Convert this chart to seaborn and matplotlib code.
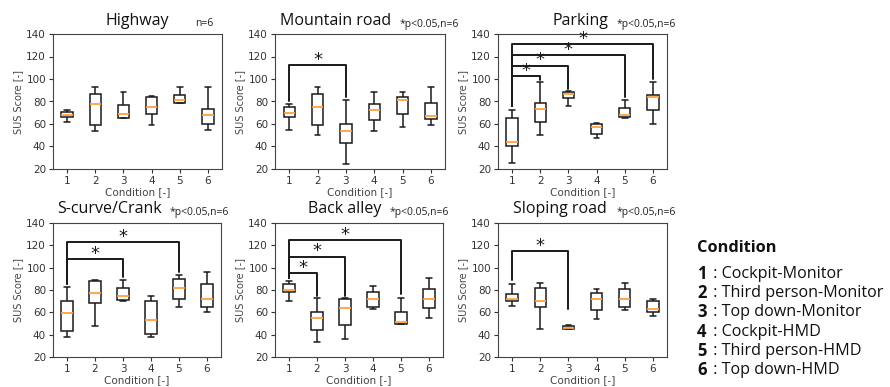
import matplotlib
matplotlib.use("Agg")
import matplotlib.pyplot as plt
import seaborn as sns
import pandas as pd

sns.set_theme(style="ticks")
plt.rcParams['font.family'] = ['DejaVu Sans']

conditions = ["1", "2", "3", "4", "5", "6"]

# six scores per condition (n=6)
highway = [
    [62, 66, 66, 70, 71.3, 72],
    [54, 55.7, 69, 87, 87, 93],
    [65, 65, 65, 73, 78.3, 88],
    [59, 69, 69, 81, 85, 85],
    [79, 79, 79, 83, 87, 93],
    [55, 59, 63, 73, 73, 93],
]
mountain = [
    [55, 66, 66, 74, 75.3, 78],
    [50, 57.7, 63, 87, 87, 93],
    [24, 41.3, 48, 60, 60, 81],
    [54, 63.3, 66, 78, 78, 88],
    [57, 66, 78, 84, 84, 88],
    [59, 64, 64, 70, 82, 93],
]
parking = [
    [25, 40, 40, 48, 70.7, 72],
    [50, 60.3, 67, 79, 79, 97],
    [76, 82, 86, 88, 88, 89],
    [48, 50, 54, 60, 60, 61],
    [65, 66, 66, 70, 75.3, 81],
    [60, 68.7, 82, 86, 86, 97],
]
scurve = [
    [38, 41.3, 48, 70, 70, 83],
    [48, 68, 68, 86, 88.7, 89],
    [70, 71, 71, 79, 83, 89],
    [38, 41, 41, 65, 71.7, 75],
    [65, 71.3, 74, 90, 90, 93],
    [60, 65, 65, 79, 87, 96],
]
backalley = [
    [70, 78, 78, 82, 86, 88],
    [33, 42, 50, 60, 60, 73],
    [36, 46.7, 56, 72, 72, 73],
    [63, 64.7, 66, 78, 78, 84],
    [50, 50, 50, 52, 62.7, 73],
    [55, 64, 64, 80, 81.3, 91],
]
sloping = [
    [66, 70, 70, 74, 76.7, 85],
    [45, 65, 65, 75, 84.3, 86],
    [45, 45, 45, 47, 48.3, 49],
    [54, 60.3, 67, 77, 77, 81],
    [62, 65, 65, 79, 81.7, 86],
    [57, 60, 60, 66, 71.3, 72],
]

titles = ["Highway", "Mountain road", "Parking", "S-curve/Crank", "Back alley", "Sloping road"]
notes = ["n=6", "*p<0.05,n=6", "*p<0.05,n=6", "*p<0.05,n=6", "*p<0.05,n=6", "*p<0.05,n=6"]

# significance brackets: (cond a, cond b, bar height, left leg end, right leg end)
brackets = [
    [],
    [(1, 3, 112.5, 80, 84)],
    [(1, 2, 102.5, 76, 99), (1, 3, 112, 76, 91), (1, 5, 121.5, 76, 84), (1, 6, 131, 76, 100)],
    [(1, 3, 107.5, 85, 92), (1, 5, 123, 85, 96)],
    [(1, 2, 95.5, 91, 75), (1, 3, 110, 91, 75), (1, 5, 124.5, 91, 76)],
    [(1, 3, 115, 89, 63)],
]

legend_title = "Condition"
legend_items = ["Cockpit-Monitor", "Third person-Monitor", "Top down-Monitor",
                "Cockpit-HMD", "Third person-HMD", "Top down-HMD"]

W, H = 890, 387
fig = plt.figure(figsize=(W / 100, H / 100), dpi=100)
fig.patch.set_facecolor("white")


def fx(x):
    return x / W


def fy(y):
    return 1 - y / H


# axes boxes in pixels: left, top, right, bottom
boxes = [
    (53, 34, 222, 169), (275, 34, 445, 169), (498, 34, 667, 169),
    (53, 223, 221, 357), (275, 223, 443, 357), (498, 223, 667, 357),
]
title_pos = [(137, 21), (336, 21), (580, 21), (109, 209), (345, 209), (560, 209)]
note_pos = [(195, 24), (400, 24), (617, 24), (170, 213), (390, 213), (617, 213)]

datasets = [highway, mountain, parking, scurve, backalley, sloping]
tick_col = "#333333"
sans = ["Open Sans", "DejaVu Sans"]

for k, data in enumerate(datasets):
    l, t, r, b = boxes[k]
    ax = fig.add_axes([fx(l), fy(b), fx(r - l), (b - t) / H])
    rows = []
    for ci, vals in enumerate(data):
        for v in vals:
            rows.append({"cond": conditions[ci], "score": v})
    df = pd.DataFrame(rows)
    sns.boxplot(data=df, x="cond", y="score", order=conditions, ax=ax,
                whis=(0, 100), width=0.4, color="white", linecolor="#1a1a1a",
                linewidth=1.1, showfliers=False,
                medianprops=dict(color="#ffa040", linewidth=1.3))
    ax.set_ylim(20, 140)
    ax.set_xlim(-0.5, 5.5)
    ax.set_yticks(range(20, 141, 20))
    ax.tick_params(labelsize=7.5, colors=tick_col, length=3, width=0.8, pad=2)
    ax.set_xlabel("Condition [-]", fontsize=7.5, color="#444444", labelpad=1)
    ax.set_ylabel("SUS Score [-]", fontsize=7, color="#444444", labelpad=2)
    for s in ax.spines.values():
        s.set_color("#444444")
        s.set_linewidth(0.8)
    for (a, c, yb, yl, yr) in brackets[k]:
        xa, xc = a - 1, c - 1
        ax.plot([xa, xa, xc, xc], [yl, yb, yb, yr], color="#1a1a1a", lw=1.4,
                clip_on=False, zorder=5)
        ax.text((xa + xc) / 2, yb + 4.5, "*", ha="center", va="center",
                fontsize=13, color="#1a1a1a")
    tx, ty = title_pos[k]
    fig.text(fx(tx), fy(ty), titles[k], ha="center", va="center",
             fontsize=11.5, family=sans, color="#111111")
    nx, ny = note_pos[k]
    fig.text(fx(nx), fy(ny), notes[k], ha="left", va="center",
             fontsize=7.5, family=sans, color="#222222")

# condition legend text
fig.text(fx(697), fy(248), legend_title, ha="left", va="center", fontsize=11.8,
         fontweight="bold", family=sans, color="#111111")
for i, item in enumerate(legend_items):
    y = 274 + i * 19.2
    fig.text(fx(697), fy(y), conditions[i], ha="left", va="center", fontsize=12,
             fontweight="bold", family=sans, color="#111111")
    fig.text(fx(709), fy(y), " : " + item, ha="left", va="center", fontsize=11.6,
             family=sans, color="#111111")

fig.savefig("out.png", dpi=100, facecolor="white")
